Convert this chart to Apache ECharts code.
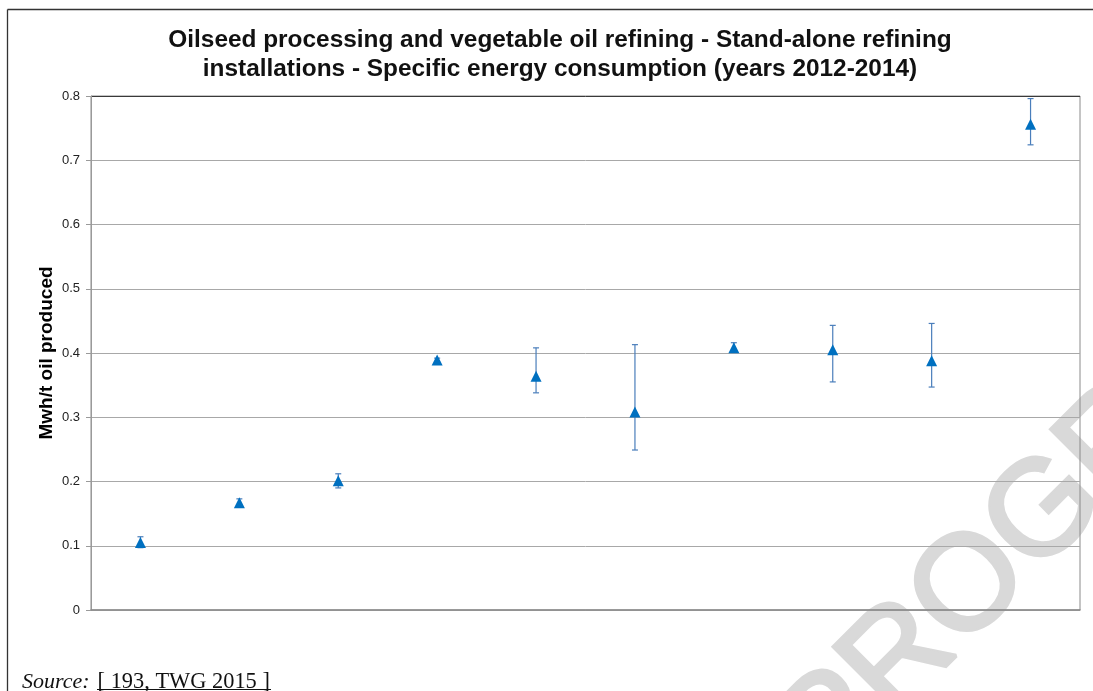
<!DOCTYPE html>
<html>
<head>
<meta charset="utf-8">
<script src="https://cdn.jsdelivr.net/npm/echarts@6/dist/echarts.min.js"></script>
<style>
  html, body { margin: 0; padding: 0; background: #fff; }
  #chart { width: 1093px; height: 691px; }
</style>
</head>
<body>
<div id="chart"></div>
<script>
// Installations (one point each, ranked by mean consumption)
const installations = ['1', '2', '3', '4', '5', '6', '7', '8', '9', '10'];
// Mean specific energy consumption, MWh/t oil produced
const meanValues = [0.105, 0.167, 0.201, 0.389, 0.364, 0.308, 0.408, 0.405, 0.388, 0.756];
// Lowest and highest yearly values over 2012-2014
const minValues = [0.097, 0.163, 0.190, 0.386, 0.338, 0.249, 0.401, 0.355, 0.347, 0.724];
const maxValues = [0.114, 0.173, 0.212, 0.392, 0.408, 0.413, 0.416, 0.443, 0.446, 0.796];
// Value axis ticks
const yMin = 0, yMax = 0.8, yStep = 0.1;

const titleText = 'Oilseed processing and vegetable oil refining - Stand-alone refining\n' +
  'installations - Specific energy consumption (years 2012-2014)';
const yAxisName = 'Mwh/t oil produced';

const chart = echarts.init(document.getElementById('chart'), null, { renderer: 'canvas' });

const rangeData = installations.map((c, i) => [i, minValues[i], maxValues[i]]);
const pointData = installations.map((c, i) => [i, meanValues[i]]);

// Split line colours: the top one (at the maximum) is drawn darker
const nTicks = Math.round((yMax - yMin) / yStep) + 1;
const splitColors = [];
for (let i = 0; i < nTicks; i++) splitColors.push(i === nTicks - 1 ? '#3a3a3a' : '#a8a8a8');

const option = {
  backgroundColor: '#ffffff',
  animation: false,
  title: {
    text: titleText,
    left: 555,
    top: 21,
    textAlign: 'center',
    textStyle: {
      fontFamily: '"Liberation Sans", Arial, sans-serif',
      fontSize: 24.4,
      fontWeight: 'bold',
      color: '#111',
      lineHeight: 29
    }
  },
  grid: {
    left: 91,
    right: 13,
    top: 96,
    bottom: 81,
    show: true,
    borderColor: '#8a8a8a',
    borderWidth: 1
  },
  xAxis: {
    type: 'category',
    data: installations,
    boundaryGap: true,
    axisLine: { show: true, lineStyle: { color: '#8a8a8a', width: 1.5 } },
    axisTick: { show: false },
    axisLabel: { show: false },
    splitLine: { show: false }
  },
  yAxis: {
    type: 'value',
    min: yMin,
    max: yMax,
    interval: yStep,
    name: yAxisName,
    nameLocation: 'middle',
    nameRotate: 90,
    nameGap: 35,
    nameMoveOverlap: false,
    nameTextStyle: {
      fontFamily: '"Liberation Sans", Arial, sans-serif',
      fontSize: 19,
      fontWeight: 'bold',
      color: '#000'
    },
    axisLine: { show: true, lineStyle: { color: '#9a9a9a', width: 1 } },
    axisTick: { show: true, inside: false, length: 5, lineStyle: { color: '#9a9a9a' } },
    axisLabel: {
      margin: 11,
      fontFamily: '"Liberation Sans", Arial, sans-serif',
      fontSize: 13,
      color: '#222',
      formatter: v => (Math.round(v * 10) / 10).toString()
    },
    splitLine: { show: true, lineStyle: { color: splitColors, width: 1 } }
  },
  series: [
    {
      // Min-max range of each installation
      type: 'custom',
      name: 'range',
      data: rangeData,
      encode: { x: 0, y: [1, 2] },
      z: 2,
      renderItem: function (params, api) {
        const idx = api.value(0);
        const low = api.coord([idx, api.value(1)]);
        const high = api.coord([idx, api.value(2)]);
        const cap = 3;
        const style = { stroke: '#4a7ebb', lineWidth: 1.2, fill: null };
        return {
          type: 'group',
          children: [
            { type: 'line', shape: { x1: low[0], y1: low[1], x2: high[0], y2: high[1] }, style: style },
            { type: 'line', shape: { x1: high[0] - cap, y1: high[1], x2: high[0] + cap, y2: high[1] }, style: style },
            { type: 'line', shape: { x1: low[0] - cap, y1: low[1], x2: low[0] + cap, y2: low[1] }, style: style }
          ]
        };
      }
    },
    {
      type: 'scatter',
      name: 'mean',
      data: pointData,
      symbol: 'triangle',
      symbolSize: [11, 11],
      z: 3,
      itemStyle: { color: '#0070c0', opacity: 1 }
    }
  ],
  graphic: [
    // Frame round the figure
    { type: 'line', silent: true, z: 10, shape: { x1: 7.5, y1: 9.5, x2: 1093, y2: 9.5 }, style: { stroke: '#333', lineWidth: 1.3 } },
    { type: 'line', silent: true, z: 10, shape: { x1: 7.5, y1: 9.5, x2: 7.5, y2: 691 }, style: { stroke: '#333', lineWidth: 1.3 } },
    // Watermark
    {
      type: 'text',
      silent: true,
      z: -1,
      x: 1072,
      y: 487,
      rotation: 45 * Math.PI / 180,
      style: {
        text: 'PROGRESS',
        fontFamily: '"Liberation Sans", Arial, sans-serif',
        fontSize: 135,
        fill: '#d9d9d9',
        stroke: '#d9d9d9',
        lineWidth: 4,
        align: 'center',
        verticalAlign: 'middle'
      }
    },
    // Source line
    {
      type: 'text',
      silent: true,
      x: 22,
      y: 693,
      style: {
        text: '{i|Source:}{u|[ 193, TWG 2015 ]}',
        verticalAlign: 'bottom',
        rich: {
          i: { fontFamily: '"Liberation Serif", "Times New Roman", serif', fontStyle: 'italic', fontSize: 22, fill: '#111' },
          u: { fontFamily: '"Liberation Serif", "Times New Roman", serif', fontSize: 22.4, fill: '#111', padding: [0, 0, 0, 8] }
        }
      }
    },
    { type: 'line', silent: true, shape: { x1: 97, y1: 689.5, x2: 271, y2: 689.5 }, style: { stroke: '#111', lineWidth: 1 } }
  ]
};

chart.setOption(option);
</script>
</body>
</html>
